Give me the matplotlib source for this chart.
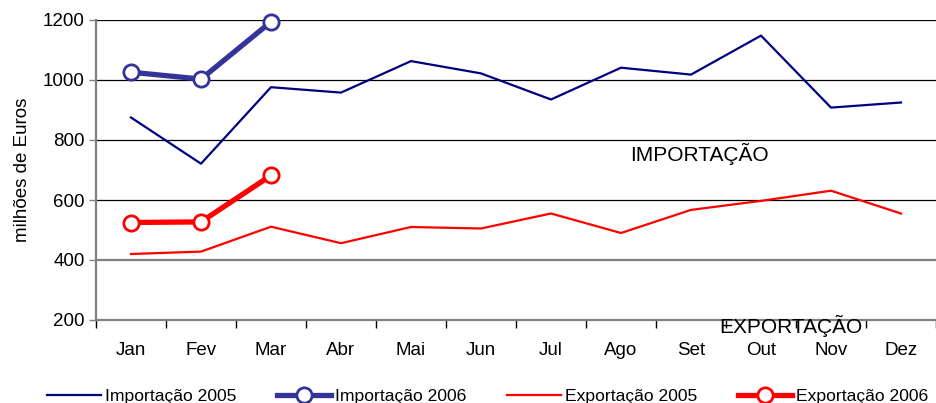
#!/usr/bin/env python3
"""Importação / Exportação mensal, 2005 vs 2006 (milhões de Euros)."""

import matplotlib
matplotlib.use("Agg")
import matplotlib.pyplot as plt
import numpy as np

plt.rcParams["font.family"] = ["Liberation Sans", "DejaVu Sans"]

months = ["Jan", "Fev", "Mar", "Abr", "Mai", "Jun", "Jul", "Ago", "Set", "Out", "Nov", "Dez"]
import_2005 = [875, 721, 976, 958, 1063, 1022, 935, 1041, 1018, 1148, 908, 925]
import_2006 = [1026, 1003, 1194]
export_2005 = [420, 428, 511, 456, 510, 505, 555, 490, 567, 597, 631, 555]
export_2006 = [525, 527, 682]
yticks = [200, 400, 600, 800, 1000, 1200]

W, H = 937, 403
fig = plt.figure(figsize=(W / 100, H / 100), dpi=100)
ax = fig.add_axes([96 / W, 1 - 320 / H, (936 - 96) / W, 300 / H])

x = np.arange(len(months))

# horizontal gridlines
for v in yticks[1:]:
    col, lw = ("#808080", 1.6) if v == 400 else ("#000000", 0.9)
    ax.axhline(v, color=col, lw=lw, zorder=1)

ax.plot(x, import_2005, color="#000080", lw=1.6, label="Importação 2005", zorder=3)
ax.plot(x[:len(import_2006)], import_2006, color="#333399", lw=3.8, marker="o",
        markersize=11, markerfacecolor="white", markeredgewidth=2.0,
        label="Importação 2006", zorder=4, clip_on=False)
ax.plot(x, export_2005, color="#FF0000", lw=1.6, label="Exportação 2005", zorder=3)
ax.plot(x[:len(export_2006)], export_2006, color="#FF0000", lw=3.8, marker="o",
        markersize=11, markerfacecolor="white", markeredgewidth=2.0,
        label="Exportação 2006", zorder=4, clip_on=False)

ax.set_xlim(-0.5, len(months) - 0.5)
ax.set_ylim(200, 1200)
ax.set_yticks(yticks)
ax.tick_params(axis="y", labelsize=13.5, length=5, width=1, color="#808080", pad=3)

ax.set_xticks(x)
ax.set_xticklabels(months)
ax.set_xticks(np.arange(len(months) + 1) - 0.5, minor=True)
ax.tick_params(axis="x", which="major", length=0, labelsize=13.5, pad=16)
ax.tick_params(axis="x", which="minor", length=6, width=1, color="#000000")

for side in ("top", "right"):
    ax.spines[side].set_visible(False)
for side in ("left", "bottom"):
    ax.spines[side].set_color("#808080")
    ax.spines[side].set_linewidth(1.6)

ax.set_ylabel("milhões de Euros", fontsize=13.5, labelpad=9)

ax.text(7.13, 752, "IMPORTAÇÃO", fontsize=15, ha="left", va="center", zorder=5)
ax.text(8.41, 179, "EXPORTAÇÃO", fontsize=15, ha="left", va="center", zorder=5,
        clip_on=False)

fig.legend(loc="lower left", bbox_to_anchor=(40 / W, -0.02), ncol=4, frameon=False,
           fontsize=12.6, handlelength=3.1, handletextpad=0.23, columnspacing=2.3,
           borderaxespad=0)

fig.savefig("out.png", dpi=100)
